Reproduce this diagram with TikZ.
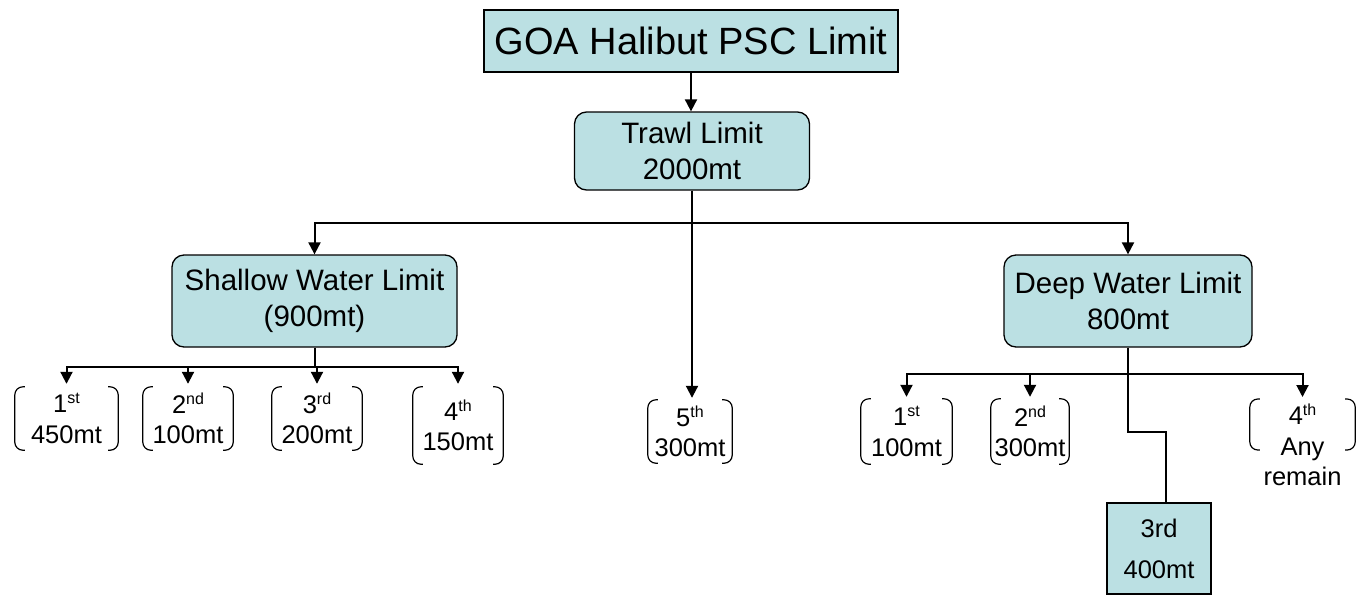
\documentclass[tikz,border=0pt]{standalone}
\usepackage{fontspec}
\setmainfont{Liberation Sans}
\usetikzlibrary{arrows.meta}
\definecolor{boxfill}{RGB}{187,224,227}
\newcommand{\bigtxt}{\fontsize{38}{44}\selectfont}
\newcommand{\midtxt}{\fontsize{29.5}{36}\selectfont}
\newcommand{\smtxt}{\fontsize{25.5}{30.5}\selectfont}
\newcommand{\ord}[1]{\raisebox{9pt}{\fontsize{16}{16}\selectfont #1}}

\begin{document}
\begin{tikzpicture}[x=1pt,y=-1pt,
  box/.style={draw=black, line width=1.3pt, fill=boxfill, inner sep=0pt, align=center},
  rbox/.style={box, rounded corners=12pt},
  tier/.style={inner sep=0pt, align=center, font=\smtxt},
  link/.style={line width=2pt},
  arr/.style={link, -{Triangle[width=12pt,length=12pt]}},
  brkline/.style={line width=1.2pt, rounded corners=8pt}]

\useasboundingbox (0,0) rectangle (1357,595);

% main boxes
\node[box, minimum width=414pt, minimum height=62pt, font=\bigtxt] (goa) at (691,41) {GOA Halibut PSC Limit};
\node[rbox, minimum width=235pt, minimum height=78pt, font=\midtxt] (trawl) at (692,151) {Trawl Limit\\2000mt};
\node[rbox, minimum width=285pt, minimum height=92pt, font=\midtxt] (shallow) at (314.5,301) {Shallow Water Limit\\(900mt)};
\node[rbox, minimum width=248pt, minimum height=92pt, font=\midtxt] (deep) at (1128,301) {Deep Water Limit\\800mt};

% seasonal allocations
\node[tier, minimum width=103pt, minimum height=63pt] (s1) at (66.5,418.5) {1\ord{st}\\450mt};
\node[tier, minimum width=90pt, minimum height=63pt] (s2) at (188,418.5) {2\ord{nd}\\100mt};
\node[tier, minimum width=90pt, minimum height=63pt] (s3) at (317,418.5) {3\ord{rd}\\200mt};
\node[tier, minimum width=90pt, minimum height=77pt] (s4) at (458,425.5) {4\ord{th}\\150mt};
\node[tier, minimum width=84pt, minimum height=63pt] (c5) at (690,431.5) {5\ord{th}\\300mt};
\node[tier, minimum width=91pt, minimum height=65pt] (d1) at (906.5,431.5) {1\ord{st}\\100mt};
\node[tier, minimum width=78pt, minimum height=65pt] (d2) at (1030,431.5) {2\ord{nd}\\300mt};
\node[tier, minimum width=105pt, anchor=north] (d4) at (1302.5,404) {4\ord{th}\\Any\\remain};
\node[box, minimum width=104pt, minimum height=91pt, font=\fontsize{25.5}{41}\selectfont] (t3) at (1159,548.5) {3rd\\400mt};

% round brackets around the allocations
\foreach \n in {s1,s2,s3,s4,c5,d1,d2}
  \draw[brkline] ([xshift=10pt]\n.north west) -- (\n.north west) -- (\n.south west) -- ([xshift=10pt]\n.south west)
                 ([xshift=-10pt]\n.north east) -- (\n.north east) -- (\n.south east) -- ([xshift=-10pt]\n.south east);
\coordinate (d4tl) at ([yshift=5pt]d4.north west);
\coordinate (d4bl) at ([yshift=-46pt]d4.north west);
\coordinate (d4tr) at ([yshift=5pt]d4.north east);
\coordinate (d4br) at ([yshift=-46pt]d4.north east);
\draw[brkline] ([xshift=10pt]d4tl) -- (d4tl) -- (d4bl) -- ([xshift=10pt]d4bl)
               ([xshift=-10pt]d4tr) -- (d4tr) -- (d4br) -- ([xshift=-10pt]d4br);

% connectors
\draw[arr] (goa.south) -- (goa.south |- trawl.north);
\draw[arr, shorten >=2pt] (trawl.south) -- (trawl.south |- c5.north);
\draw[link] (trawl.south) -- ++(0,32) coordinate (tj);
\draw[arr] (tj) -| (shallow.north);
\draw[arr] (tj) -| (deep.north);

\draw[link] (shallow.south) -- ++(0,19) coordinate (sj);
\foreach \n in {s1,s2,s3,s4}
  \draw[arr, shorten >=3pt] (sj) -| (\n.north);

\draw[link] (deep.south) -- ++(0,26) coordinate (dj);
\foreach \n in {d1,d2}
  \draw[arr, shorten >=2pt] (dj) -| (\n.north);
\draw[arr, shorten >=7pt] (dj) -| (d4.north);
\draw[link] (dj) -- ++(0,58) -| ([xshift=7pt]t3.north);

\end{tikzpicture}
\end{document}
